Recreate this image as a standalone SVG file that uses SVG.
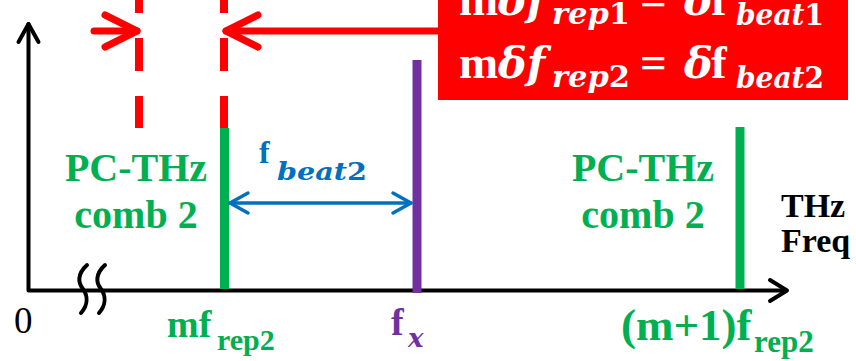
<svg xmlns="http://www.w3.org/2000/svg" width="856" height="361" viewBox="0 0 856 361" font-family="Liberation Serif, serif">
<style>
.ax{stroke:#000;stroke-width:4;fill:none;stroke-linecap:round;stroke-linejoin:round}
.red{stroke:#FF0000;fill:none;stroke-width:7;stroke-linecap:round;stroke-linejoin:round}
.dash{stroke:#FF0000;stroke-width:8;stroke-dasharray:33 25;stroke-dashoffset:20}
.blue{stroke:#0070C0;fill:none;stroke-width:3.5;stroke-linecap:round;stroke-linejoin:round}
</style>
<rect width="856" height="361" fill="#FFFFFF"/>

<g id="axes">
  <path class="ax" d="M28.5 24 V290.5 H786"/>
  <path class="ax" d="M18.5 42 L28.5 24 L38.5 42"/>
  <path class="ax" d="M770 280 L787 290.5 L770 301"/>
  <path class="ax" d="M87 265 C77 274 78 283 83 289 C88 296 88 305 81 313"/>
  <path class="ax" d="M105 265 C95 274 96 283 101 289 C106 296 106 305 99 313"/>
  <text x="14" y="333" font-family="Liberation Serif, serif" font-size="37" fill="#000">0</text>
  <g font-family="Liberation Serif, serif" font-weight="bold" font-size="34" fill="#000">
    <text x="781" y="217">THz</text>
    <text x="781" y="252">Freq</text>
  </g>
</g>

<g id="comb-line-m">
  <line x1="139" y1="0" x2="139" y2="128" class="dash"/>
  <line x1="224" y1="0" x2="224" y2="128" class="dash"/>
  <rect x="220" y="128" width="9" height="161" fill="#00B050"/>
  <g font-family="Liberation Serif, serif" font-weight="bold" fill="#00B050">
    <text x="167" y="337" font-size="38">mf</text>
    <text x="217" y="350" font-size="30">rep2</text>
  </g>
</g>

<g id="comb-label-left" font-family="Liberation Serif, serif" font-weight="bold" fill="#00B050" font-size="40" text-anchor="middle">
  <text x="136" y="181">PC-THz</text>
  <text x="136" y="228">comb 2</text>
</g>

<g id="comb-line-m1">
  <rect x="735.5" y="127" width="9" height="162" fill="#00B050"/>
  <g font-family="Liberation Serif, serif" font-weight="bold" fill="#00B050">
    <text x="621" y="340" font-size="45">(m+1)f</text>
    <text x="754" y="352" font-size="31">rep2</text>
  </g>
</g>

<g id="comb-label-right" font-family="Liberation Serif, serif" font-weight="bold" fill="#00B050" font-size="40" text-anchor="middle">
  <text x="643" y="181">PC-THz</text>
  <text x="643" y="228">comb 2</text>
</g>

<g id="fx">
  <rect x="412.5" y="60" width="9" height="233" fill="#7030A0"/>
  <text x="391" y="335" font-family="Liberation Serif, serif" font-weight="bold" font-size="38" fill="#7030A0">f</text>
  <text x="408" y="347" font-family="DejaVu Serif, serif" font-weight="bold" font-style="italic" font-size="26" fill="#7030A0">x</text>
</g>

<g id="equation-box" fill="#FFFFFF" font-weight="bold">
  <rect x="438" y="-2" width="410" height="102" fill="#FF0000"/>
  <text x="459" y="15" font-family="Liberation Serif, serif" font-size="47">m</text>
  <text x="498" y="15" font-family="DejaVu Serif, serif" font-style="italic" font-size="43">δf</text>
  <text x="552" y="24" font-family="DejaVu Serif, serif" font-size="30" textLength="78" lengthAdjust="spacingAndGlyphs"><tspan font-style="italic">rep</tspan>1</text>
  <text x="640" y="15" font-family="Liberation Serif, serif" font-size="47">=</text>
  <text x="684" y="15" font-family="DejaVu Serif, serif" font-style="italic" font-size="43">δ</text>
  <text x="711" y="15" font-family="Liberation Serif, serif" font-size="47">f</text>
  <text x="736" y="25" font-family="DejaVu Serif, serif" font-size="30" textLength="88" lengthAdjust="spacingAndGlyphs"><tspan font-style="italic">beat</tspan>1</text>

  <text x="459" y="78" font-family="Liberation Serif, serif" font-size="47">m</text>
  <text x="498" y="78" font-family="DejaVu Serif, serif" font-style="italic" font-size="43">δf</text>
  <text x="552" y="87" font-family="DejaVu Serif, serif" font-size="30" textLength="78" lengthAdjust="spacingAndGlyphs"><tspan font-style="italic">rep</tspan>2</text>
  <text x="640" y="78" font-family="Liberation Serif, serif" font-size="47">=</text>
  <text x="684" y="78" font-family="DejaVu Serif, serif" font-style="italic" font-size="43">δ</text>
  <text x="711" y="78" font-family="Liberation Serif, serif" font-size="47">f</text>
  <text x="736" y="88" font-family="DejaVu Serif, serif" font-size="30" textLength="88" lengthAdjust="spacingAndGlyphs"><tspan font-style="italic">beat</tspan>2</text>
</g>

<g id="connectors">
  <path class="red" d="M94 31 H137"/>
  <path class="red" d="M105 15 L137 31 L105 47"/>
  <path class="red" d="M438 31 H226"/>
  <path class="red" d="M258 15 L226 31 L258 47"/>
  <path class="blue" d="M230 203 H411"/>
  <path class="blue" d="M248 193 L230 203 L248 213"/>
  <path class="blue" d="M393 193 L411 203 L393 213"/>
  <text x="259" y="163" font-family="Liberation Serif, serif" font-weight="bold" font-size="32" fill="#0070C0">f</text>
  <text x="277" y="180" font-family="DejaVu Serif, serif" font-weight="bold" font-size="25" fill="#0070C0" textLength="90" lengthAdjust="spacingAndGlyphs"><tspan font-style="italic">beat</tspan>2</text>
</g>
</svg>
